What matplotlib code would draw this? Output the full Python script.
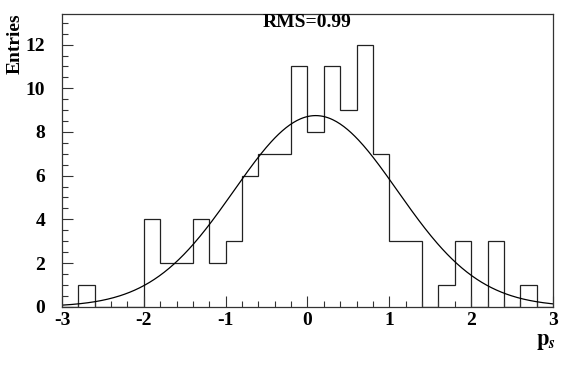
import numpy as np
import matplotlib.pyplot as plt
from matplotlib.ticker import MultipleLocator

# histogram of p_s, 30 bins of width 0.2 from -3 to 3
edges = np.linspace(-3, 3, 31)
counts = [0, 1, 0, 0, 0, 4, 2, 2, 4, 2,
          3, 6, 7, 7, 11, 8, 11, 9, 12, 7,
          3, 3, 0, 1, 3, 0, 3, 0, 1, 0]

# gaussian fit
g_const = 8.75
g_mean = 0.1
g_sigma = 1.0

plt.rcParams['font.family'] = ['Liberation Serif', 'DejaVu Serif']
plt.rcParams['font.weight'] = 'bold'
plt.rcParams['mathtext.fontset'] = 'stix'

fig = plt.figure(figsize=(5.67, 3.69), dpi=100)
ax = fig.add_axes([0.1093, 0.1688, 0.8660, 0.7932])

ax.stairs(counts, edges, color='#222222', lw=0.9)
xf = np.linspace(-3, 3, 400)
ax.plot(xf, g_const * np.exp(-0.5 * ((xf - g_mean) / g_sigma) ** 2), color='black', lw=0.9)

ax.set_xlim(-3, 3)
ax.set_ylim(0, 13.4)
ax.xaxis.set_major_locator(MultipleLocator(1))
ax.xaxis.set_minor_locator(MultipleLocator(0.2))
ax.yaxis.set_major_locator(MultipleLocator(2))
ax.yaxis.set_minor_locator(MultipleLocator(0.5))
ax.tick_params(which='both', direction='in', top=False, right=False,
               labelsize=14, width=0.8, color='#333333')
ax.tick_params(which='major', length=8)
ax.tick_params(which='minor', length=4)
ax.tick_params(axis='x', pad=4)
ax.tick_params(axis='y', pad=12)
ax.set_xticks([-3, -2, -1, 0, 1, 2, 3])
ax.set_xticklabels(['-3', '-2', '-1', '0', '1', '2', '3'], fontweight='bold')
for lab in ax.get_yticklabels():
    lab.set_fontweight('bold')
for s in ax.spines.values():
    s.set_linewidth(0.9)
    s.set_color('#333333')

fig.text(0.541, 0.94, 'RMS=0.99', ha='center', va='center', fontsize=14, fontweight='bold')
fig.text(0.027, 0.965, 'Entries', ha='center', va='top', rotation=90, fontsize=14, fontweight='bold')
fig.text(0.962, 0.073, r'$\mathbf{p}_{s}$', ha='center', va='center', fontsize=16)

fig.savefig('out.png', dpi=100)
